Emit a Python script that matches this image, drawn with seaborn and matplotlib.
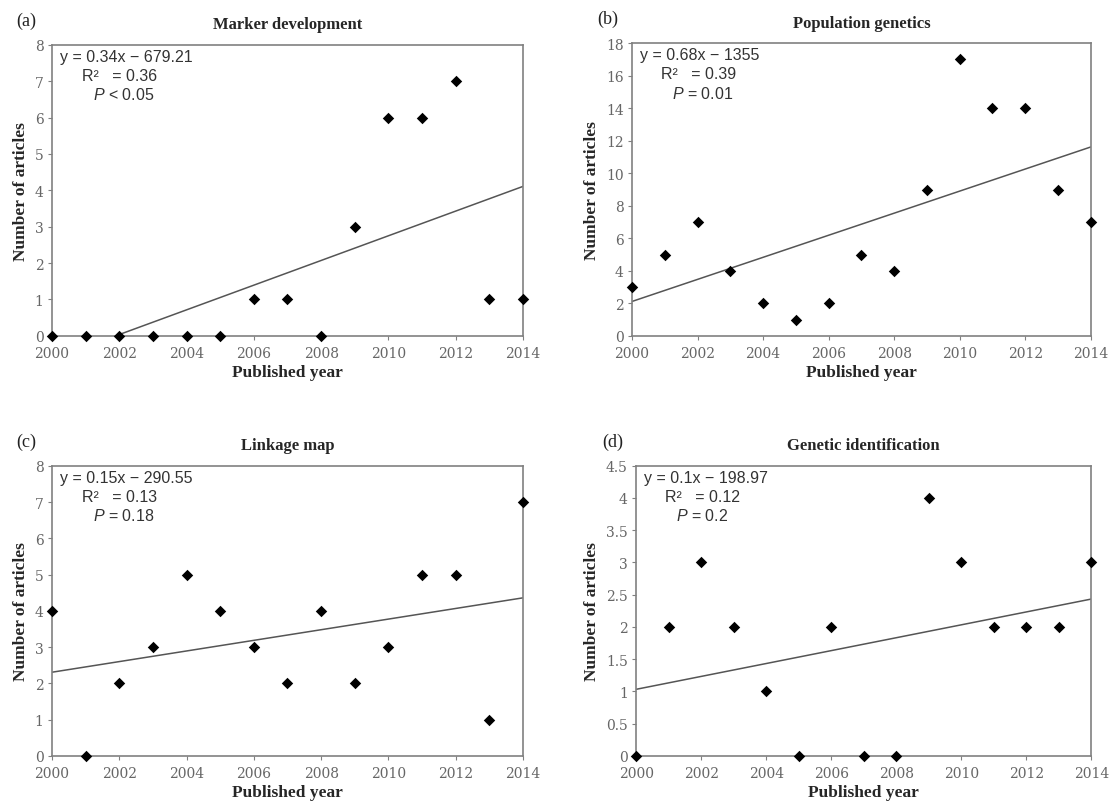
import numpy as np
import pandas as pd
import seaborn as sns
import matplotlib.pyplot as plt
from matplotlib.ticker import MultipleLocator, FormatStrFormatter

# data
years = list(range(2000, 2015))
marker_dev = [0, 0, 0, 0, 0, 0, 1, 1, 0, 3, 6, 6, 7, 1, 1]
pop_genetics = [3, 5, 7, 4, 2, 1, 2, 5, 4, 9, 17, 14, 14, 9, 7]
linkage_map = [4, 0, 2, 3, 5, 4, 3, 2, 4, 2, 3, 5, 5, 1, 7]
genetic_id = [0, 2, 3, 2, 1, 0, 2, 0, 0, 4, 3, 2, 2, 2, 3]

panel_tags = ["(a)", "(b)", "(c)", "(d)"]
panel_titles = ["Marker development", "Population genetics", "Linkage map", "Genetic identification"]
equations = ["y = 0.34x \u2212 679.21", "y = 0.68x \u2212 1355", "y = 0.15x \u2212 290.55", "y = 0.1x \u2212 198.97"]
r2_texts = ["R\u00b2   = 0.36", "R\u00b2   = 0.39", "R\u00b2   = 0.13", "R\u00b2   = 0.12"]
p_texts = ["$P$ < 0.05", "$P$ = 0.01", "$P$ = 0.18", "$P$ = 0.2"]
y_max = [8, 18, 8, 4.5]
y_step = [1, 2, 1, 0.5]

sns.set_style("white")
plt.rcParams["mathtext.fontset"] = "custom"
plt.rcParams["mathtext.it"] = "Liberation Sans:italic"
plt.rcParams["mathtext.rm"] = "Liberation Sans"

fig = plt.figure(figsize=(11.16, 8.04), dpi=100)
positions = [
    [0.0466, 0.581, 0.422, 0.362],
    [0.5663, 0.581, 0.411, 0.364],
    [0.0466, 0.0585, 0.422, 0.361],
    [0.570, 0.0585, 0.408, 0.361],
]
series = [marker_dev, pop_genetics, linkage_map, genetic_id]

serif = "Liberation Serif"
grey = "#808080"

for i in range(4):
    ax = fig.add_axes(positions[i])
    df = pd.DataFrame({"year": years, "n": series[i]})
    # scatter + least squares line, line gets clipped by the axes like in excel
    sns.regplot(data=df, x="year", y="n", ax=ax, ci=None, marker="D",
                scatter_kws={"s": 34, "color": "black", "linewidths": 0, "alpha": 1,
                             "clip_on": False, "zorder": 3},
                line_kws={"color": "#555555", "lw": 1.1})
    ax.set_xlim(2000, 2014)
    ax.set_ylim(0, y_max[i])
    ax.xaxis.set_major_locator(MultipleLocator(2))
    ax.yaxis.set_major_locator(MultipleLocator(y_step[i]))
    ax.yaxis.set_major_formatter(FormatStrFormatter("%g"))
    for s in ax.spines.values():
        s.set_color(grey)
        s.set_linewidth(1.2)
    ax.tick_params(direction="out", length=3, width=0.8, color=grey,
                   labelsize=10, labelcolor="#666666", left=True, bottom=True)
    ax.tick_params(axis="x", pad=4)
    ax.tick_params(axis="y", pad=3)
    for lab in ax.get_xticklabels() + ax.get_yticklabels():
        lab.set_family("DejaVu Serif")
    ax.set_xlabel("Published year", fontsize=12.5, fontweight="bold", family=serif, labelpad=3)
    ax.set_ylabel("Number of articles", fontsize=12.5, fontweight="bold", family=serif, labelpad=4)
    ax.set_title(panel_titles[i], fontsize=12, fontweight="bold", family=serif, pad=12)
    ax.text(-0.075, 1.085, panel_tags[i], transform=ax.transAxes, fontsize=13,
            family=serif, ha="left", va="center", color="#222222")
    ax.text(0.017, 0.96, equations[i], transform=ax.transAxes, fontsize=11.5,
            family="Liberation Sans", color="#333333", va="center")
    ax.text(0.063, 0.895, r2_texts[i], transform=ax.transAxes, fontsize=11.5,
            family="Liberation Sans", color="#333333", va="center")
    ax.text(0.088, 0.83, p_texts[i], transform=ax.transAxes, fontsize=11.5,
            family="Liberation Sans", color="#333333", va="center")

plt.savefig("out.png", dpi=100)
